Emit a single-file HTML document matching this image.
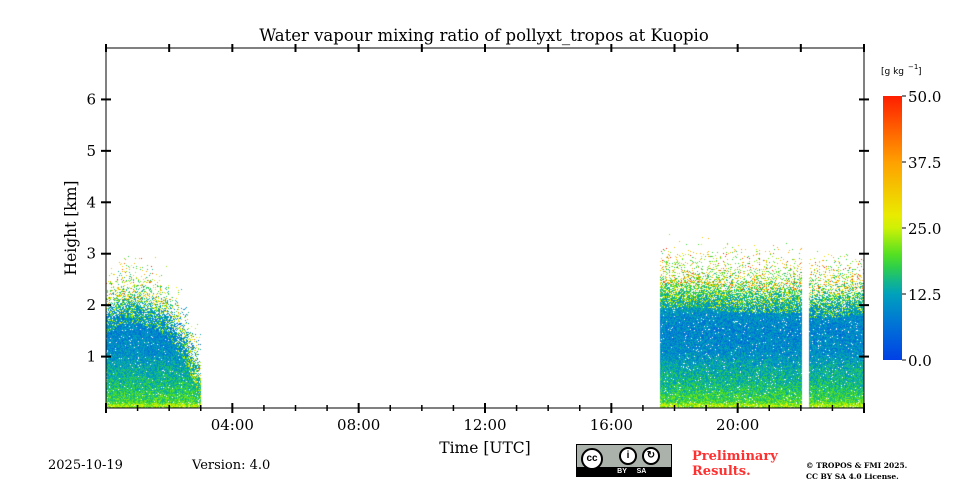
<!DOCTYPE html>
<html><head><meta charset="utf-8"><style>
body{margin:0;background:#fff;width:960px;height:480px;overflow:hidden;font-family:"DejaVu Serif","Liberation Serif",serif;}
.t{position:absolute;white-space:nowrap;color:#000}
</style></head><body>
<div style="position:relative;width:960px;height:480px">
<div class="t" style="left:0;width:968px;text-align:center;top:26px;font-size:16.5px">Water vapour mixing ratio of pollyxt_tropos at Kuopio</div>
<canvas id="cv" width="758" height="360" style="position:absolute;left:106px;top:48px"></canvas>
<svg id="ax" width="960" height="480" style="position:absolute;left:0;top:0"></svg>
<div class="t" style="left:48px;top:458px;font-size:13px">2025-10-19</div>
<div class="t" style="left:192px;top:458px;font-size:13px">Version: 4.0</div>
<div style="position:absolute;left:576px;top:444px;width:96px;height:33px;background:#aab2ab;border:1px solid #000;box-sizing:border-box">
<div style="position:absolute;left:0;bottom:0;width:100%;height:9px;background:#000;color:#fff;font:bold 7px 'Liberation Sans',sans-serif;text-align:center;line-height:9px">&nbsp;&nbsp;&nbsp;&nbsp;&nbsp;&nbsp;&nbsp;&nbsp;BY&nbsp;&nbsp;&nbsp;&nbsp;&nbsp;SA</div>
<div style="position:absolute;left:4px;top:3px;width:22px;height:22px;border-radius:50%;background:#fff;border:2px solid #000;box-sizing:border-box;font:bold 10px 'Liberation Sans',sans-serif;text-align:center;line-height:18px">cc</div>
<div style="position:absolute;left:42px;top:2px;width:18px;height:18px;border-radius:50%;background:#fff;border:2px solid #000;box-sizing:border-box;font:bold 10px sans-serif;text-align:center;line-height:14px">i</div>
<div style="position:absolute;left:65px;top:2px;width:18px;height:18px;border-radius:50%;background:#fff;border:2px solid #000;box-sizing:border-box;font:bold 10px sans-serif;text-align:center;line-height:14px">↻</div>
</div>
<div class="t" style="left:692px;top:449px;font-size:13px;font-weight:bold;color:#ff3030;line-height:15px">Preliminary<br>Results.</div>
<div class="t" style="left:806px;top:460px;font-size:7.5px;font-weight:bold;line-height:11px">© TROPOS &amp; FMI 2025.<br>CC BY SA 4.0 License.</div>
</div>
<script>
// data
const segStart=[0,17.55,22.25];
const segEnd=[3.0,22.05,24];
const topTimes=[0,0.5,1,1.5,2,2.5,2.8,3.0,17.55,19,20,21,22.05,22.25,23,24];
const topHeights=[1.9,2.1,2.1,2.0,1.8,1.3,0.9,0.6,2.4,2.4,2.3,2.3,2.3,2.2,2.2,2.3];
const profHeights=[0,0.06,0.12,0.3,0.5,0.8,1.1,1.5,1.8,2.1,2.5,3.5];
const profValues=[20,24,19,17,15,13,10,9,10,14,18,22];
const xTickLabels=["04:00","08:00","12:00","16:00","20:00"];
const xTickHours=[4,8,12,16,20];
const yTicks=[1,2,3,4,5,6];
const cbTicks=[0,12.5,25,37.5,50];

const X0=106,X1=864,Y0=408,Y1=48;
const xs=h=>X0+(X1-X0)*h/24, ys=k=>Y0-(Y0-Y1)*k/7;
const cbY=v=>360-264*v/50;
function interp(xa,ya,x){if(x<=xa[0])return ya[0];for(let i=1;i<xa.length;i++)if(x<=xa[i]){const t=(x-xa[i-1])/(xa[i]-xa[i-1]);return ya[i-1]+t*(ya[i]-ya[i-1]);}return ya[ya.length-1];}
const cstops=[[0,[0,64,230]],[8,[0,125,210]],[13,[0,165,185]],[19,[60,220,40]],[26,[230,245,0]],[37.5,[255,160,0]],[50,[255,30,0]]];
function cmap(v){v=Math.max(0,Math.min(50,v));for(let i=1;i<cstops.length;i++)if(v<=cstops[i][0]){const a=cstops[i-1],b=cstops[i],t=(v-a[0])/(b[0]-a[0]);return a[1].map((c,j)=>Math.round(c+t*(b[1][j]-c)));}return cstops[cstops.length-1][1];}
function hash(a,b){let h=(a*374761393+b*668265263)|0;h=(h^(h>>>13))*1274126177|0;return ((h^(h>>>16))>>>0)/4294967296;}
// heatmap
const ctx=document.getElementById('cv').getContext('2d');
const img=ctx.createImageData(758,360);
const segIdx=[[0,8],[8,13],[13,16]];
for(let s=0;s<segStart.length;s++){
  const px0=Math.round(xs(segStart[s]))-X0, px1=Math.round(xs(segEnd[s]))-X0;
  const tt=topTimes.slice(segIdx[s][0],segIdx[s][1]), th=topHeights.slice(segIdx[s][0],segIdx[s][1]);
  for(let px=px0;px<px1;px++){
    const hr=px/(X1-X0)*24;
    const top=interp(tt,th,hr);
    for(let py=359;py>=0;py--){
      const km=(360-py)/(360/7);
      const r=hash(px,py);
      const rel=km-(top-0.45);
      let p;
      if(rel<0) p=0.97; else p=Math.max(0,0.97*Math.exp(-rel*rel*2.2)-0.01);
      if(km<0.04) p=0.9;
      if(r>=p)continue;
      let v=interp(profHeights,profValues,km)+(hash(py,px)-0.5)*9;
      if(rel>0 && hash(px+7,py+3)<0.25) v+=12;
      if(km>top && hash(px+1,py+9)<0.3) v+=16;
      const c=cmap(v);
      const i=(py*758+px)*4;img.data[i]=c[0];img.data[i+1]=c[1];img.data[i+2]=c[2];img.data[i+3]=255;
    }
  }
}
ctx.putImageData(img,0,0);
// axes
const svg=document.getElementById('ax');const NS='http://www.w3.org/2000/svg';
function el(tag,attrs,txt){const e=document.createElementNS(NS,tag);for(const k in attrs)e.setAttribute(k,attrs[k]);if(txt!==undefined)e.textContent=txt;svg.appendChild(e);return e;}
let e=el('rect',{x:X0,y:Y1,width:X1-X0,height:Y0-Y1,fill:'none',stroke:'#000','stroke-width':1});

for(let h=0;h<=24;h++){
  const big=h%4==0;
  e=el('line',{x1:xs(h),x2:xs(h),y1:Y0-(big?5:3),y2:Y0+(big?5:3),stroke:'#000','stroke-width':big?2:1.5});
  
  if(h%2==0){e=el('line',{x1:xs(h),x2:xs(h),y1:Y1-4,y2:Y1+4,stroke:'#000','stroke-width':2});
  }
}
xTickHours.forEach((h,i)=>{e=el('text',{x:xs(h),y:430,'font-size':15,'text-anchor':'middle','font-family':'DejaVu Serif, Liberation Serif, serif'},xTickLabels[i]);
});
yTicks.forEach(k=>{
  e=el('line',{x1:X0-5,x2:X0+5,y1:ys(k),y2:ys(k),stroke:'#000','stroke-width':2});
  e=el('line',{x1:X1-5,x2:X1+5,y1:ys(k),y2:ys(k),stroke:'#000','stroke-width':2});
  e=el('text',{x:96,y:ys(k)+5,'font-size':15,'text-anchor':'end','font-family':'DejaVu Serif, Liberation Serif, serif'},String(k));
  
});
e=el('text',{x:0,y:0,'font-size':15.5,'text-anchor':'middle',transform:'translate(76,228) rotate(-90)','font-family':'DejaVu Serif, Liberation Serif, serif'},'Height [km]');

e=el('text',{x:485,y:453,'font-size':15.5,'text-anchor':'middle','font-family':'DejaVu Serif, Liberation Serif, serif'},'Time [UTC]');

// colorbar
const defs=el('defs',{});const lg=document.createElementNS(NS,'linearGradient');lg.setAttribute('id','cb');lg.setAttribute('x1','0');lg.setAttribute('y1','1');lg.setAttribute('x2','0');lg.setAttribute('y2','0');defs.appendChild(lg);
for(let v=0;v<=50;v+=2.5){const s=document.createElementNS(NS,'stop');s.setAttribute('offset',v/50);s.setAttribute('stop-color','rgb('+cmap(v).join(',')+')');lg.appendChild(s);}
e=el('rect',{x:883,y:96,width:19,height:264,fill:'url(#cb)'});
cbTicks.forEach(v=>{e=el('line',{x1:902,x2:906,y1:cbY(v),y2:cbY(v),stroke:'#000','stroke-width':1});
e=el('text',{x:908,y:cbY(v)+6,'font-size':15,'font-family':'DejaVu Serif, Liberation Serif, serif'},v.toFixed(1));});
e=el('text',{x:881,y:74,'font-size':9,'font-family':'DejaVu Sans, Liberation Sans, sans-serif'},'[g kg');
e=el('text',{x:908,y:69,'font-size':7,'font-family':'DejaVu Sans, sans-serif'},'−1');
e=el('text',{x:918,y:74,'font-size':9,'font-family':'DejaVu Sans, sans-serif'},']');
</script>
</body></html>
